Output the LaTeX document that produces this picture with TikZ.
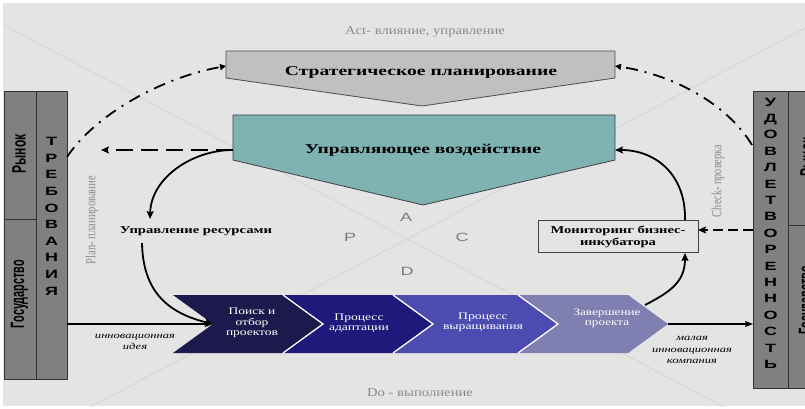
\documentclass[tikz,border=0pt]{standalone}
\usepackage{fontspec}
\usepackage{graphicx}
\setmainfont{Liberation Serif}
\setsansfont{Liberation Sans}
\usetikzlibrary{arrows.meta}
\definecolor{bgc}{HTML}{E4E4E4}
\definecolor{diagc}{HTML}{D0D0D0}
\definecolor{panelc}{HTML}{808080}
\definecolor{stratc}{HTML}{C0C0C0}
\definecolor{tealc}{HTML}{7FB3B3}
\definecolor{chA}{HTML}{1C1A4C}
\definecolor{chB}{HTML}{1E1A7C}
\definecolor{chC}{HTML}{4C4CB0}
\definecolor{chD}{HTML}{7F7FB2}
\definecolor{greytxt}{HTML}{8A8A8A}
\newcommand{\wb}[2]{\resizebox{#1pt}{\height}{#2}}
\newcommand{\tall}[2]{\scalebox{1}[#1]{#2}}
\newcommand{\vstack}[2]{\scalebox{1.5}[1]{\fontsize{12}{#1}\selectfont\sffamily\bfseries\begin{tabular}{@{}c@{}}#2\end{tabular}}}
\tikzset{
 panel/.style={draw=black!80, line width=0.9pt, fill=panelc, inner sep=0pt, rectangle},
 vlett/.style={inner sep=0pt},
 ptxt/.style={font=\sffamily\bfseries\fontsize{12}{14}\selectfont, rotate=90, inner sep=0pt},
 gtxt/.style={text=greytxt, inner sep=0pt, font=\fontsize{10}{12}\selectfont},
 pdca/.style={text=greytxt!90!black, font=\sffamily\fontsize{12}{14}\selectfont, inner sep=0pt},
 btxt/.style={inner sep=0pt},
 chtxt/.style={text=white, inner sep=0pt},
 itxt/.style={inner sep=0pt},
 conn/.style={line width=1.8pt, -{Stealth[length=8pt,width=7pt,inset=1.5pt]}},
 dconn/.style={conn, dash pattern=on 17pt off 8pt},
 dconnb/.style={conn, dash pattern=on 10pt off 5pt},
 ddconn/.style={line width=1.8pt, dash pattern=on 12pt off 7pt on 2pt off 7pt, -{Triangle[length=6pt,width=6pt]}},
 hconn/.style={line width=1.4pt, -{Stealth[length=8pt,width=6pt,inset=1.5pt]}},
 sep/.style={draw=white, line width=1.3pt},
}
\begin{document}
\begin{tikzpicture}[x=1pt,y=-1pt]
\useasboundingbox (0,0) rectangle (805,409);
\fill[white] (0,0) rectangle (805,409);
\fill[bgc] (3,3) rectangle (805,406);
% diagonals
\begin{scope}
\clip (3,3) rectangle (805,406);
\draw[diagc, line width=0.6pt] (0,23) -- (805,450);
\draw[diagc, line width=0.6pt] (0,455) -- (805,28);
\end{scope}
% left panel
\node[panel, minimum width=32pt, minimum height=128pt] (rynL) at (20,155) {};
\node[panel, minimum width=32pt, minimum height=160pt] (gosL) at (20,299) {};
\node[panel, minimum width=31pt, minimum height=288pt] (reqL) at (51.5,235) {};
\node[ptxt] (rynLt) at (19,154) {\tall{1.6}{Рынок}};
\node[ptxt] (gosLt) at (19.5,294) {\wb{68}{\tall{1.6}{Государство}}};
\node[vlett] (reqLt) at (51.5,217) {\vstack{16.6}{Т\\Р\\Е\\Б\\О\\В\\А\\Н\\И\\Я}};
% right panel
\begin{scope}
\clip (0,0) rectangle (805,409);
\node[panel, minimum width=44pt, minimum height=134pt] (rynR) at (810,158) {};
\node[panel, minimum width=44pt, minimum height=163pt] (gosR) at (810,306.5) {};
\node[ptxt] (rynRt) at (807,157) {\tall{1.6}{Рынок}};
\node[ptxt] (gosRt) at (807.5,300) {\wb{68}{\tall{1.6}{Государство}}};
\end{scope}
\node[panel, minimum width=35pt, minimum height=297pt] (satR) at (770.5,239.5) {};
\node[vlett] (satRt) at (770.5,234) {\vstack{16.4}{У\\Д\\О\\В\\Л\\Е\\Т\\В\\О\\Р\\Е\\Н\\Н\\О\\С\\Т\\Ь}};
% strategic planning
\draw[fill=stratc, draw=black!70, line width=0.8pt] (226,51) -- (615,51) -- (615,78) -- (422,106) -- (226,78) -- cycle;
\node[btxt] (strat) at (421,72) {\wb{272}{\fontsize{13.5}{15}\selectfont\bfseries Стратегическое планирование}};
\coordinate (stratL) at (226,66);
\coordinate (stratR) at (615,66);
% teal
\draw[fill=tealc, draw=black!75, line width=0.8pt] (233,115) -- (615,115) -- (615,160) -- (423,205) -- (233,160) -- cycle;
\node[btxt] (ctrl) at (423,150) {\wb{236}{\fontsize{13.5}{15}\selectfont\bfseries Управляющее воздействие}};
\coordinate (ctrlL) at (233,150);
\coordinate (ctrlR) at (615,150);
% resources
\node[btxt] (res) at (196,231) {\wb{152}{\fontsize{10.5}{12}\selectfont\bfseries Управление ресурсами}};
% monitoring
\node[draw=black!75, line width=0.8pt, fill=bgc, minimum width=160pt, minimum height=32pt, inner sep=0pt] (mon) at (618,236) {};
\node[btxt] (mont) at (618,237) {\wb{135}{\fontsize{10.5}{12}\selectfont\bfseries\begin{tabular}{@{}c@{}}Мониторинг бизнес-\\инкубатора\end{tabular}}};
% chevrons
\fill[chA] (173,295) -- (283,295) -- (323,324) -- (283,353) -- (173,353) -- (213,324) -- cycle;
\fill[chB] (283,295) -- (393,295) -- (433,324) -- (393,353) -- (283,353) -- (323,324) -- cycle;
\fill[chC] (393,295) -- (518,295) -- (558,324) -- (518,353) -- (393,353) -- (433,324) -- cycle;
\fill[chD] (518,295) -- (628,295) -- (668,324) -- (628,353) -- (518,353) -- (558,324) -- cycle;
\draw[sep] (283,295) -- (323,324) -- (283,353);
\draw[sep] (393,295) -- (433,324) -- (393,353);
\draw[sep] (518,295) -- (558,324) -- (518,353);
\node[chtxt] (c1) at (252,323) {\wb{52}{\fontsize{10}{10}\selectfont\begin{tabular}{@{}c@{}}Поиск и\\отбор\\проектов\end{tabular}}};
\node[chtxt] (c2) at (359,323) {\wb{60}{\fontsize{10}{10}\selectfont\begin{tabular}{@{}c@{}}Процесс\\адаптации\end{tabular}}};
\node[chtxt] (c3) at (483,322) {\wb{80}{\fontsize{10}{10}\selectfont\begin{tabular}{@{}c@{}}Процесс\\выращивания\end{tabular}}};
\node[chtxt] (c4) at (607,318) {\wb{67}{\fontsize{10}{10}\selectfont\begin{tabular}{@{}c@{}}Завершение\\проекта\end{tabular}}};
\coordinate (c1in) at (213,324);
\coordinate (c4out) at (668,324);
\coordinate (c4top) at (645,305);
% labels
\node[itxt] (idea) at (135,342) {\wb{80}{\fontsize{9}{11}\selectfont\itshape\begin{tabular}{@{}c@{}}инновационная\\идея\end{tabular}}};
\node[itxt] (comp) at (692,350) {\wb{80}{\fontsize{9}{11.5}\selectfont\itshape\begin{tabular}{@{}c@{}}малая\\инновационная\\компания\end{tabular}}};
\node[gtxt] (act) at (425,32) {\wb{160}{\tall{1.2}{Act- влияние, управление}}};
\node[gtxt] (do) at (420,393) {\wb{106}{\tall{1.2}{Do - выполнение}}};
\node[gtxt, rotate=90] (plan) at (92,220) {\wb{88}{\tall{1.4}{Plan- планирование}}};
\node[gtxt, rotate=90] (check) at (718,181) {\wb{72}{\tall{1.4}{Check- проверка}}};
\node[pdca] (pA) at (406,217) {\scalebox{1.5}[1]{A}};
\node[pdca] (pP) at (350,237) {\scalebox{1.5}[1]{P}};
\node[pdca] (pC) at (462,237) {\scalebox{1.5}[1]{C}};
\node[pdca] (pD) at (407,271) {\scalebox{1.5}[1]{D}};
% connector end coordinates
\coordinate (reqTop) at (67,157);
\coordinate (satTop) at (752,145);
\coordinate (reqOut) at (67,324);
\coordinate (satIn) at (753,324);
\coordinate (satDash) at (753,230);
\coordinate (monR) at (698,230);
\coordinate (monB) at (685,253);
\coordinate (monT) at (685,220);
\coordinate (resTop) at (150,219);
\coordinate (resBot) at (142,243);
\coordinate (dashEnd) at (101,150);
% connectors
\draw[ddconn] (reqTop) .. controls (95,115) and (160,78) .. (stratL);
\draw[ddconn] (satTop) .. controls (728,105) and (675,75) .. (stratR);
\draw[dconn] (ctrlL) -- (dashEnd);
\draw[conn] (ctrlL) .. controls (192,150) and (151,178) .. (resTop);
\draw[conn] (resBot) .. controls (143,292) and (168,313) .. (c1in);
\draw[hconn] (reqOut) -- (c1in);
\draw[hconn] (c4out) -- (satIn);
\draw[conn] (c4top) .. controls (670,292) and (685,282) .. (monB);
\draw[conn] (monT) .. controls (686,175) and (656,150) .. (ctrlR);
\draw[dconnb] (satDash) -- (monR);
\end{tikzpicture}
\end{document}
